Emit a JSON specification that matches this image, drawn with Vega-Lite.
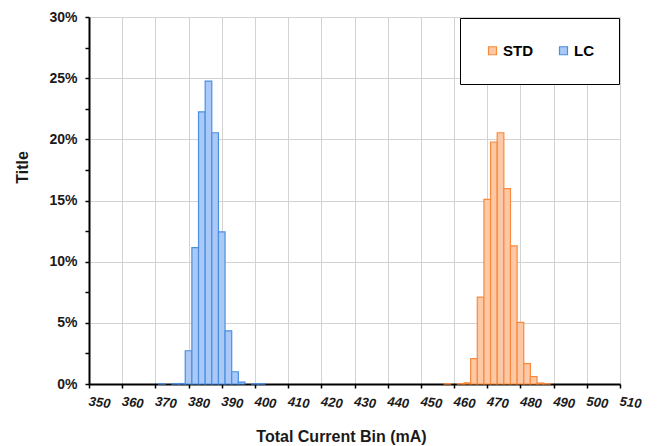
{
  "$schema": "https://vega.github.io/schema/vega-lite/v6.json",
  "width": 531,
  "height": 367,
  "autosize": {"type": "none"},
  "padding": {"left": 89, "top": 17, "right": 37, "bottom": 62},
  "background": "white",
  "config": {
    "view": {"stroke": null},
    "font": "Liberation Sans"
  },
  "data": {
    "values": [
      {"series": "LC", "bin_start": 371, "bin_end": 373, "pct": 0.0002},
      {"series": "LC", "bin_start": 375, "bin_end": 377, "pct": 0.0002},
      {"series": "LC", "bin_start": 377, "bin_end": 379, "pct": 0.0004},
      {"series": "LC", "bin_start": 379, "bin_end": 381, "pct": 0.0272},
      {"series": "LC", "bin_start": 381, "bin_end": 383, "pct": 0.1115},
      {"series": "LC", "bin_start": 383, "bin_end": 385, "pct": 0.2225},
      {"series": "LC", "bin_start": 385, "bin_end": 387, "pct": 0.2476},
      {"series": "LC", "bin_start": 387, "bin_end": 389, "pct": 0.2054},
      {"series": "LC", "bin_start": 389, "bin_end": 391, "pct": 0.1243},
      {"series": "LC", "bin_start": 391, "bin_end": 393, "pct": 0.0435},
      {"series": "LC", "bin_start": 393, "bin_end": 395, "pct": 0.0100},
      {"series": "LC", "bin_start": 395, "bin_end": 397, "pct": 0.0016},
      {"series": "LC", "bin_start": 399, "bin_end": 401, "pct": 0.0002},
      {"series": "LC", "bin_start": 401, "bin_end": 403, "pct": 0.0002},
      {"series": "STD", "bin_start": 457, "bin_end": 459, "pct": 0.0002},
      {"series": "STD", "bin_start": 461, "bin_end": 463, "pct": 0.0003},
      {"series": "STD", "bin_start": 463, "bin_end": 465, "pct": 0.0010},
      {"series": "STD", "bin_start": 465, "bin_end": 467, "pct": 0.0207},
      {"series": "STD", "bin_start": 467, "bin_end": 469, "pct": 0.0710},
      {"series": "STD", "bin_start": 469, "bin_end": 471, "pct": 0.1510},
      {"series": "STD", "bin_start": 471, "bin_end": 473, "pct": 0.1978},
      {"series": "STD", "bin_start": 473, "bin_end": 475, "pct": 0.2054},
      {"series": "STD", "bin_start": 475, "bin_end": 477, "pct": 0.1597},
      {"series": "STD", "bin_start": 477, "bin_end": 479, "pct": 0.1129},
      {"series": "STD", "bin_start": 479, "bin_end": 481, "pct": 0.0503},
      {"series": "STD", "bin_start": 481, "bin_end": 483, "pct": 0.0166},
      {"series": "STD", "bin_start": 483, "bin_end": 485, "pct": 0.0060},
      {"series": "STD", "bin_start": 485, "bin_end": 487, "pct": 0.0008},
      {"series": "STD", "bin_start": 487, "bin_end": 489, "pct": 0.0002}
    ]
  },
  "mark": {"type": "bar", "strokeWidth": 1.2},
  "encoding": {
    "x": {
      "field": "bin_start",
      "type": "quantitative",
      "scale": {"domain": [350, 510], "nice": false, "zero": false},
      "axis": {
        "values": [350, 360, 370, 380, 390, 400, 410, 420, 430, 440, 450, 460, 470, 480, 490, 500, 510],
        "grid": true,
        "gridColor": "#d3d3d3",
        "gridWidth": 1,
        "domainColor": "#000000",
        "domainWidth": 2,
        "tickColor": "#000000",
        "tickWidth": 1.5,
        "tickSize": 4,
        "labelFont": "Liberation Sans",
        "labelFontSize": 13,
        "labelFontWeight": "bold",
        "labelFontStyle": "italic",
        "labelColor": "#1a1a1a",
        "labelAngle": 7,
        "labelAlign": "left",
        "labelBaseline": "top",
        "labelPadding": 7,
        "labelOverlap": false,
        "labelFlush": false,
        "title": "Total Current Bin (mA)",
        "titleFont": "Liberation Sans",
        "titleFontSize": 16,
        "titleFontWeight": "bold",
        "titleColor": "#1a1a1a",
        "titleX": 252,
        "titleY": 60,
        "titleAnchor": "middle",
        "titleBaseline": "bottom"
      }
    },
    "x2": {"field": "bin_end"},
    "y": {
      "field": "pct",
      "type": "quantitative",
      "scale": {"domain": [0, 0.3], "nice": false},
      "axis": {
        "values": [0, 0.025, 0.05, 0.075, 0.1, 0.125, 0.15, 0.175, 0.2, 0.225, 0.25, 0.275, 0.3],
        "format": ".0%",
        "labelExpr": "round(datum.value * 1000) % 50 == 0 ? datum.label : ''",
        "grid": true,
        "gridColor": "#d3d3d3",
        "gridOpacity": {"condition": {"test": "round(datum.value * 1000) % 50 == 0", "value": 1}, "value": 0},
        "domainColor": "#000000",
        "domainWidth": 2,
        "tickColor": "#000000",
        "tickWidth": 1.5,
        "tickSize": 4,
        "labelFont": "Liberation Sans",
        "labelFontSize": 14,
        "labelFontWeight": "bold",
        "labelColor": "#1a1a1a",
        "labelPadding": 8,
        "title": "Title",
        "titleFont": "Liberation Sans",
        "titleFontSize": 16,
        "titleFontWeight": "bold",
        "titleColor": "#1a1a1a",
        "titleX": -59,
        "titleY": 150,
        "titleAnchor": "middle"
      }
    },
    "y2": {"datum": 0},
    "color": {
      "field": "series",
      "type": "nominal",
      "scale": {"domain": ["STD", "LC"], "range": ["#fdc8a6", "#abc9f6"]},
      "legend": {
        "title": null,
        "orient": "none",
        "legendX": 371,
        "legendY": 1,
        "direction": "horizontal",
        "fillColor": "white",
        "strokeColor": "#000000",
        "padding": 25,
        "symbolType": "square",
        "symbolSize": 64,
        "symbolStrokeWidth": 1.2,
        "labelFont": "Liberation Sans",
        "labelFontSize": 15,
        "labelFontWeight": "bold",
        "labelColor": "#000000",
        "labelOffset": 3,
        "columnPadding": 23
      }
    },
    "stroke": {
      "field": "series",
      "type": "nominal",
      "scale": {"domain": ["STD", "LC"], "range": ["#f98a3c", "#4a8fe2"]},
      "legend": {
        "title": null,
        "orient": "none",
        "legendX": 371,
        "legendY": 1,
        "direction": "horizontal",
        "fillColor": "white",
        "strokeColor": "#000000",
        "padding": 25,
        "symbolType": "square",
        "symbolSize": 64,
        "symbolStrokeWidth": 1.2,
        "labelFont": "Liberation Sans",
        "labelFontSize": 15,
        "labelFontWeight": "bold",
        "labelColor": "#000000",
        "labelOffset": 3,
        "columnPadding": 23
      }
    }
  }
}
